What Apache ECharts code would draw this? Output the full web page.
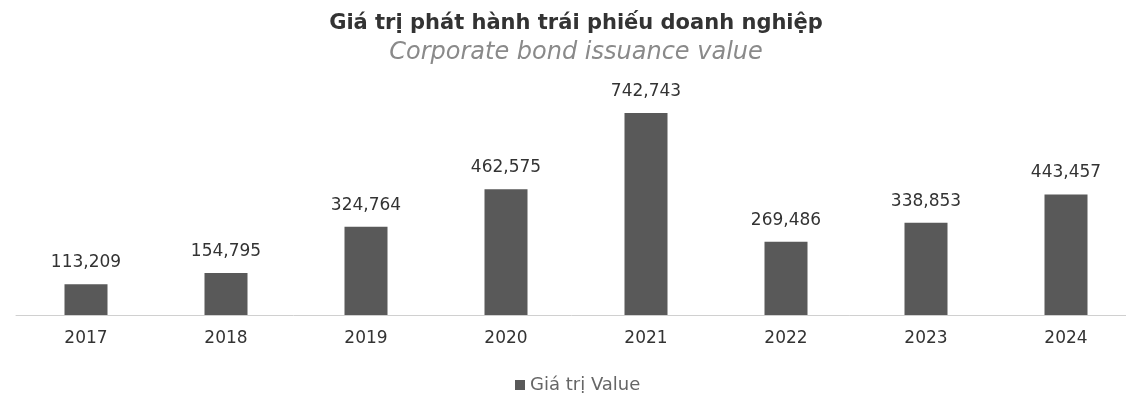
<!DOCTYPE html>
<html>
<head>
<meta charset="utf-8">
<script src="https://cdn.jsdelivr.net/npm/echarts@6/dist/echarts.min.js"></script>
<style>
  html, body { margin: 0; padding: 0; background: #fff; }
  #chart { width: 1126px; height: 396px; }
</style>
</head>
<body>
<div id="chart"></div>
<script>
// Corporate bond issuance value by year
const years = ['2017', '2018', '2019', '2020', '2021', '2022', '2023', '2024'];
const issuanceValues = [113209, 154795, 324764, 462575, 742743, 269486, 338853, 443457];
const seriesName = 'Giá trị Value';

const chart = echarts.init(document.getElementById('chart'));
chart.setOption({
  animation: false,
  backgroundColor: '#ffffff',
  textStyle: { fontFamily: 'DejaVu Sans, sans-serif' },
  title: {
    text: 'Giá trị phát hành trái phiếu doanh nghiệp',
    subtext: 'Corporate bond issuance value',
    left: 571,
    textAlign: 'center',
    top: 8,
    itemGap: 7,
    textStyle: { fontSize: 21, fontWeight: 'bold', color: '#333333', fontFamily: 'DejaVu Sans' },
    subtextStyle: { fontSize: 24, fontStyle: 'italic', color: '#8a8a8a', fontFamily: 'DejaVu Sans' }
  },
  legend: {
    data: [seriesName],
    top: 371,
    left: 510,
    icon: 'rect',
    itemWidth: 10,
    itemHeight: 10,
    itemGap: 4,
    textStyle: { fontSize: 18, color: '#666666' }
  },
  grid: { left: 16, width: 1120, top: 43, bottom: 81, outerBoundsMode: 'none' },
  xAxis: {
    type: 'category',
    data: years,
    axisLine: { lineStyle: { color: '#d0d0d0', width: 1 } },
    axisTick: { show: false },
    axisLabel: { fontSize: 17, color: '#333333', margin: 15 }
  },
  yAxis: {
    type: 'value',
    min: 0,
    max: 1000000,
    show: false,
    splitLine: { show: false }
  },
  series: [{
    name: seriesName,
    type: 'bar',
    data: issuanceValues,
    barWidth: 43,
    itemStyle: { color: '#595959' },
    label: {
      show: true,
      position: 'top',
      distance: 13,
      fontSize: 17,
      color: '#333333',
      formatter: p => p.value.toLocaleString('en-US')
    }
  }]
});
</script>
</body>
</html>
